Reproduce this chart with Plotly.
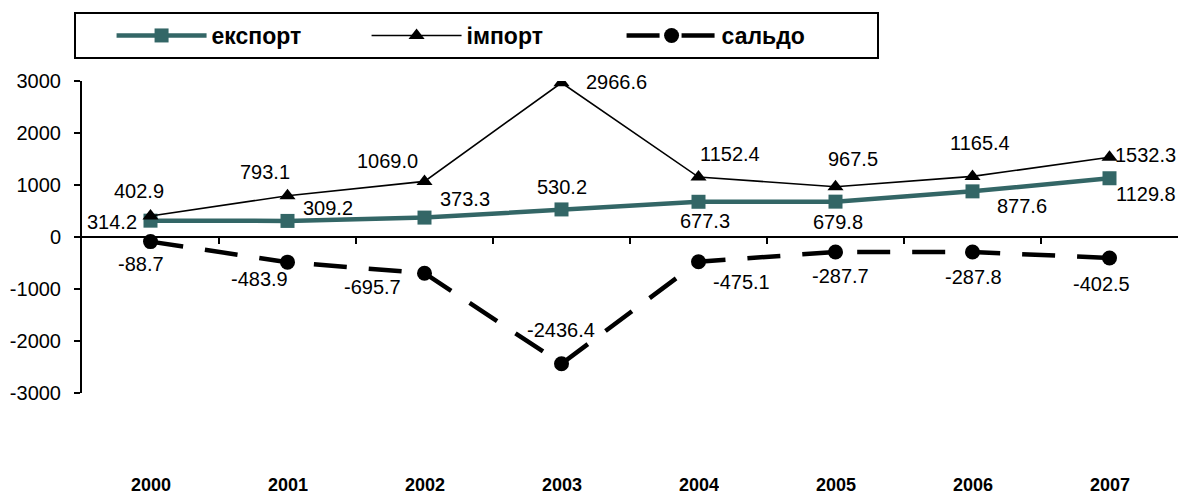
import plotly.graph_objects as go

years = ["2000", "2001", "2002", "2003", "2004", "2005", "2006", "2007"]
export_vals = [314.2, 309.2, 373.3, 530.2, 677.3, 679.8, 877.6, 1129.8]
import_vals = [402.9, 793.1, 1069.0, 2966.6, 1152.4, 967.5, 1165.4, 1532.3]
saldo_vals = [-88.7, -483.9, -695.7, -2436.4, -475.1, -287.7, -287.8, -402.5]
y_ticks = [3000, 2000, 1000, 0, -1000, -2000, -3000]

# label offsets in pixels (dx, dy down)
export_off = [(-39, 1), (40, -13), (40, -19), (0, -22), (6, 19), (2, 20), (49, 15), (36, 16)]
import_off = [(-12, -25), (-23, -24), (-37, -20), (55, -1), (31, -23), (17, -28), (7, -33), (36, -2)]
saldo_off = [(-10, 22), (-28, 17), (-52, 14), (-1, -34), (43, 20), (5, 24), (1, 25), (-8, 26)]

FONT = "Arial, Liberation Sans, sans-serif"
TEAL = "#336666"
W, H = 1179, 495
top, bottom_px = 81, 485
ymin_px = 393
d0 = (bottom_px - ymin_px) / (bottom_px - top)

xs = list(range(len(years)))

fig = go.Figure()
fig.add_trace(go.Scatter(
    x=xs, y=export_vals, name="експорт", mode="lines+markers",
    line=dict(color=TEAL, width=4.5),
    marker=dict(symbol="square", size=14, color=TEAL),
))
fig.add_trace(go.Scatter(
    x=xs, y=import_vals, name="імпорт", mode="lines+markers",
    line=dict(color="black", width=1.6),
    marker=dict(symbol="triangle-up", size=14, color="black"),
))
fig.add_trace(go.Scatter(
    x=xs, y=saldo_vals, name="сальдо", mode="lines+markers",
    line=dict(color="black", width=4.5, dash="33px,22px"),
    marker=dict(symbol="circle", size=15, color="black"),
))

annotations = []
for vals, offs in ((export_vals, export_off), (import_vals, import_off), (saldo_vals, saldo_off)):
    for i, (v, (dx, dy)) in enumerate(zip(vals, offs)):
        annotations.append(dict(
            x=i, y=v, xref="x", yref="y", text=f"{v:.1f}", showarrow=False,
            xshift=dx, yshift=-dy,
            font=dict(family=FONT, size=20, color="black", weight="normal"),
        ))
for i, yr in enumerate(years):
    annotations.append(dict(
        x=i, y=0, xref="x", yref="paper", text=f"<b>{yr}</b>", showarrow=False,
        yanchor="middle", height=20, font=dict(family=FONT, size=18, color="black"),
    ))

shapes = []
for i in range(len(years) - 1):
    shapes.append(dict(
        type="line", xref="x", yref="y", x0=i + 0.5, x1=i + 0.5,
        ysizemode="pixel", yanchor=0, y0=0, y1=-7,
        line=dict(color="black", width=2),
    ))

fig.update_layout(
    width=W, height=H,
    margin=dict(l=82, r=1, t=top, b=H - bottom_px, autoexpand=False),
    plot_bgcolor="white", paper_bgcolor="white",
    font=dict(family=FONT, size=20, color="black", weight="normal"),
    xaxis=dict(range=[-0.5, len(years) - 0.5], showticklabels=False, showline=False,
               showgrid=False, zeroline=False, ticks=""),
    yaxis=dict(range=[-3000, 3000], domain=[d0, 1], showline=True, linewidth=2,
               linecolor="black", ticks="outside", ticklen=6, tickwidth=2, tickcolor="black",
               tickvals=y_ticks, ticktext=[str(t) for t in y_ticks], showgrid=False,
               zeroline=True, zerolinecolor="black", zerolinewidth=2,
               ticklabelstandoff=9,
               tickfont=dict(family=FONT, size=20, color="black", weight="normal")),
    legend=dict(
        orientation="h", xref="container", yref="container",
        x=74 / W, y=1 - 12 / H, xanchor="left", yanchor="top",
        bordercolor="black", borderwidth=2, bgcolor="white",
        font=dict(family=FONT, size=23, color="black", weight="bold"),
        title=dict(text="&nbsp;" * 4, side="left", font=dict(size=23)),
        itemwidth=90, entrywidth=150, entrywidthmode="pixels",
    ),
    annotations=annotations,
    shapes=shapes,
)

fig.write_html("out.html", post_script="document.body.style.margin='0px';",
               config={"displayModeBar": False})
